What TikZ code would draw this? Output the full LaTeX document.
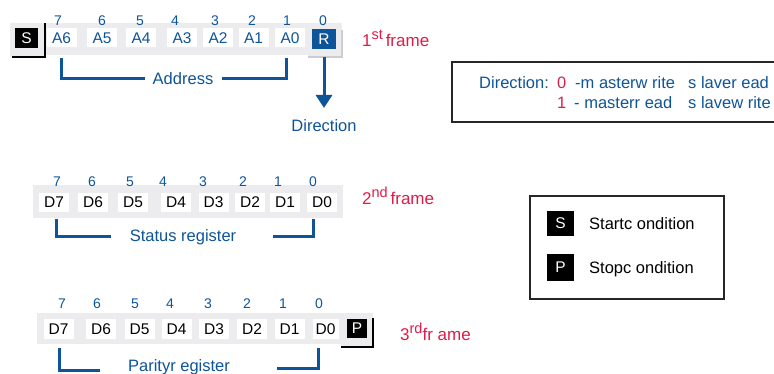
\documentclass[tikz,border=0pt]{standalone}
\usepackage{fontspec}
\setmainfont{Liberation Sans}
\usetikzlibrary{arrows.meta}
\definecolor{tiblue}{RGB}{14,84,152}
\definecolor{tired}{RGB}{222,28,72}
\definecolor{bandgray}{RGB}{236,236,238}
\definecolor{shadowgray}{RGB}{205,205,208}
\tikzset{
  cell/.style={fill=white, minimum width=30pt, minimum height=19pt, inner sep=0pt, font=\fontsize{15.5}{15.5}\selectfont},
  acell/.style={cell, text=tiblue},
  dcell/.style={cell, text=black},
  blk/.style={fill=black, text=white, minimum width=23pt, minimum height=20pt, inner sep=0pt, font=\fontsize{15.5}{15.5}\selectfont},
  bit/.style={text=tiblue, inner sep=0pt, font=\fontsize{14}{14}\selectfont},
  br/.style={draw=tiblue, line width=3pt},
  lbl/.style={text=tiblue, inner sep=0pt, font=\fontsize{16.5}{16.5}\selectfont},
  frm/.style={text=tired, inner sep=0pt, anchor=base west, font=\fontsize{17}{17}\selectfont},
  leg/.style={inner sep=0pt, anchor=base west, font=\fontsize{16.5}{16.5}\selectfont},
}
\newcommand{\supx}[1]{\raisebox{7pt}{\fontsize{14.5}{14.5}\selectfont #1}}
\begin{document}
\begin{tikzpicture}[x=1pt,y=-1pt]
\useasboundingbox (0,0) rectangle (774,374);
% ---------- frame 1 ----------
\fill[bandgray] (10,23) rectangle (342,55);
\fill[bandgray] (10,23) rectangle (45,57);
\draw[black, line width=1.2pt] (12,57) -- (45,57) -- (45,23);
\fill[bandgray] (308,23) rectangle (342,57);
\draw[shadowgray, line width=1.2pt] (308,57) -- (342,57) -- (342,30);
\node[blk] (s1) at (26.5,38) {S};
\node[acell] (a6) at (61.5,38) {A6};
\node[acell] (a5) at (102,38) {A5};
\node[acell] (a4) at (141,38) {A4};
\node[acell] (a3) at (182,38) {A3};
\node[acell] (a2) at (218,38) {A2};
\node[acell] (a1) at (253.5,38) {A1};
\node[acell] (a0) at (290,38) {A0};
\node[blk, fill=tiblue, minimum width=24pt] (r) at (324,39) {R};
\foreach \x/\n [count=\i] in {58/7,102/6,140/5,175/4,215/3,252/2,287/1,323/0}
  \node[bit] (ba\i) at (\x,21) {\n};
\node[lbl] (addr) at (183,79) {Address};
\coordinate (b1l) at (61,58);
\coordinate (b1le) at (145,79);
\coordinate (b1r) at (286,58);
\coordinate (b1re) at (222,79);
\draw[br] (b1l) |- (b1le);
\draw[br] (b1r) |- (b1re);
\node[lbl] (dir) at (324,126) {Direction};
\coordinate (rs) at (324,57);
\coordinate (tip) at (324,108);
\draw[tiblue, line width=3pt, -{Triangle[width=16pt,length=13pt]}] (rs) -- (tip);
\node[frm] (f1) at (362,47) {1\supx{st}\,frame};
% ---------- legend 1 ----------
\draw[line width=2pt, draw=black!85] (452,62) rectangle (790,122);
\node[leg, text=tiblue] (l1a) at (479,89) {Direction:};
\node[leg, text=tired] (l1b) at (557,89) {0};
\node[leg, text=tiblue] (l1c) at (575,89) {-m asterw rite};
\node[leg, text=tiblue] (l1d) at (688,89) {s laver ead};
\node[leg, text=tired] (l2b) at (557,109) {1};
\node[leg, text=tiblue] (l2c) at (574,109) {- masterr ead};
\node[leg, text=tiblue] (l2d) at (688,109) {s lavew rite};
% ---------- frame 2 ----------
\fill[bandgray] (33,185) rectangle (343,218);
\node[dcell] (d27) at (54,202.5) {D7};
\node[dcell] (d26) at (93,202.5) {D6};
\node[dcell] (d25) at (133,202.5) {D5};
\node[dcell] (d24) at (176,202.5) {D4};
\node[dcell] (d23) at (213.5,202.5) {D3};
\node[dcell] (d22) at (250,202.5) {D2};
\node[dcell] (d21) at (285,202.5) {D1};
\node[dcell] (d20) at (322,202.5) {D0};
\foreach \x/\n [count=\i] in {57/7,92/6,130/5,163/4,203/3,243/2,278/1,313/0}
  \node[bit] (bb\i) at (\x,182) {\n};
\node[lbl] (stat) at (183,237) {Status register};
\coordinate (b2l) at (56,219);
\coordinate (b2le) at (111,237);
\coordinate (b2r) at (313,219);
\coordinate (b2re) at (273,237);
\draw[br] (b2l) |- (b2le);
\draw[br] (b2r) |- (b2re);
\node[frm] (f2) at (362,205) {2\supx{nd}\,frame};
% ---------- legend 2 ----------
\draw[line width=1.5pt, draw=black!85] (530,196) rectangle (724,299);
\node[blk, minimum width=27pt, minimum height=25pt] (ls) at (560.5,223.5) {S};
\node[blk, minimum width=27pt, minimum height=27pt] (lp) at (560.5,267.5) {P};
\node[leg] (lst) at (589,230) {Startc ondition};
\node[leg] (lsp) at (589,273) {Stopc ondition};
% ---------- frame 3 ----------
\fill[bandgray] (37,313) rectangle (341,344);
\fill[bandgray] (341,313) rectangle (373,347);
\draw[black, line width=1.2pt] (341,347) -- (373,347) -- (373,318);
\node[dcell, minimum height=20pt] (d37) at (58.5,329) {D7};
\node[dcell, minimum height=20pt] (d36) at (101,329) {D6};
\node[dcell, minimum height=20pt] (d35) at (139.5,329) {D5};
\node[dcell, minimum height=20pt] (d34) at (176.5,329) {D4};
\node[dcell, minimum height=20pt] (d33) at (214,329) {D3};
\node[dcell, minimum height=20pt] (d32) at (252,329) {D2};
\node[dcell, minimum height=20pt] (d31) at (289.5,329) {D1};
\node[dcell, minimum height=20pt, minimum width=26pt] (d30) at (325.5,329) {D0};
\node[blk, minimum width=20pt, minimum height=19pt] (p3) at (357,328.5) {P};
\foreach \x/\n [count=\i] in {62/7,97/6,135/5,170/4,208/3,247/2,283/1,319/0}
  \node[bit] (bc\i) at (\x,304) {\n};
\node[lbl] (par) at (179,367) {Parityr egister};
\coordinate (b3l) at (59,348);
\coordinate (b3le) at (100,370);
\coordinate (b3r) at (318,348);
\coordinate (b3re) at (277,368);
\draw[br] (b3l) |- (b3le);
\draw[br] (b3r) |- (b3re);
\node[frm] (f3) at (400,340) {3\supx{rd}fr ame};
\end{tikzpicture}
\end{document}
